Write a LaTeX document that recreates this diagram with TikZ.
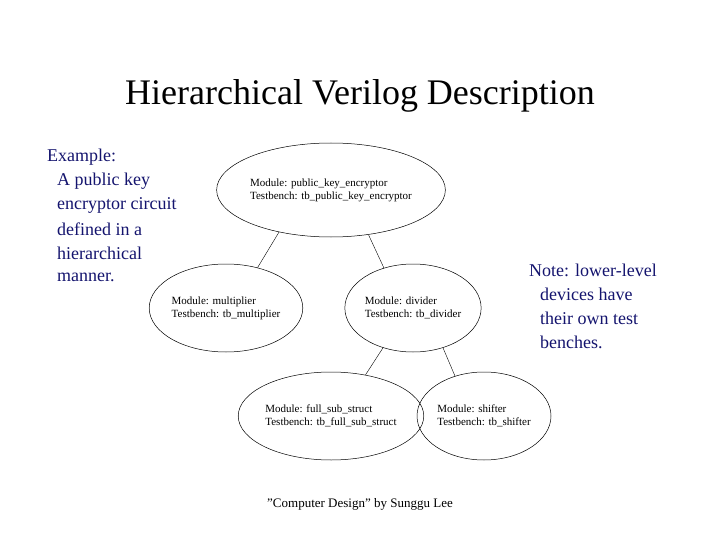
\documentclass[tikz,border=0pt]{standalone}
\usepackage{fontspec}
\setmainfont{Liberation Serif}
\usetikzlibrary{shapes.geometric}
\definecolor{navy}{RGB}{20,20,110}
\begin{document}
\begin{tikzpicture}[x=1pt,y=-1pt,
  mod/.style={draw,ellipse,inner sep=0pt,font=\fontsize{11}{13}\selectfont,align=left,line width=0.5pt},
  side/.style={anchor=west,font=\fontsize{18}{24}\selectfont,text=navy,inner sep=0pt}]
\useasboundingbox (0,0) rectangle (720,540);
\node[font=\fontsize{36}{40}\selectfont] (title) at (360,96) {Hierarchical Verilog Description};
\node[mod,minimum width=186,minimum height=94] (top) at (331,190) {Module: public\_key\_encryptor\\Testbench: tb\_public\_key\_encryptor};
\node[mod,minimum width=134,minimum height=88] (mult) at (226,308) {Module: multiplier\\Testbench: tb\_multiplier};
\node[mod,minimum width=134,minimum height=88] (div) at (413,308) {Module: divider\\Testbench: tb\_divider};
\node[mod,minimum width=152,minimum height=88] (full) at (331,416) {Module: full\_sub\_struct\\Testbench: tb\_full\_sub\_struct};
\node[mod,minimum width=134,minimum height=88] (shift) at (484,416) {Module: shifter\\Testbench: tb\_shifter};
\draw (top.-141) -- (mult.52);
\draw (top.-50) -- (div.126);
\draw (div.-127) -- (full.50);
\draw (div.-53) -- (shift.126);
\node[side] (ex1) at (47,157) {Example:};
\node[side] (ex2) at (57,181) {A public key};
\node[side] (ex3) at (57,205) {encryptor circuit};
\node[side] (ex4) at (57,229) {defined in a};
\node[side] (ex5) at (57,253) {hierarchical};
\node[side] (ex6) at (57,277) {manner.};
\node[side] (n1) at (529,270) {Note: lower-level};
\node[side] (n2) at (540,294) {devices have};
\node[side] (n3) at (540,318) {their own test};
\node[side] (n4) at (540,342) {benches.};
\node[font=\fontsize{13}{15}\selectfont] (foot) at (360,504) {"Computer Design" by Sunggu Lee};
\end{tikzpicture}
\end{document}
